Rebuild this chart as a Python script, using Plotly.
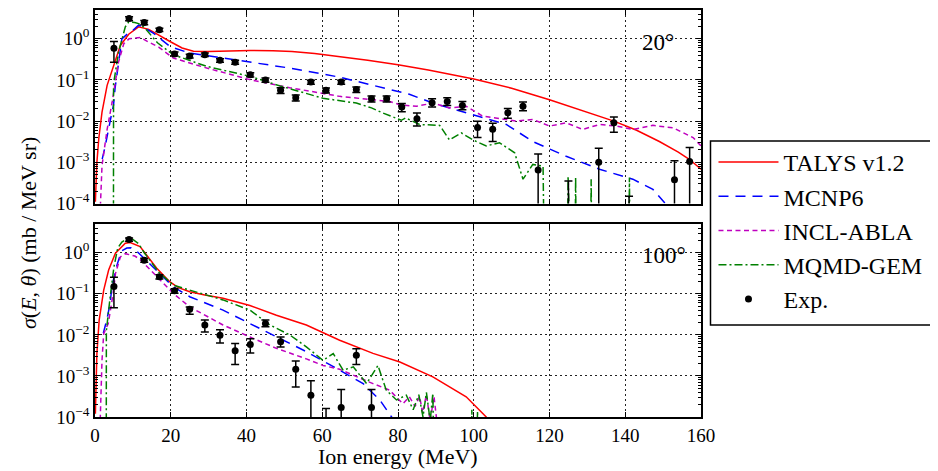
import plotly.graph_objects as go

# ---------------- 20 degree panel ----------------
talys20_E = [0.1, 0.5, 1.0, 1.85, 3.2, 4.9, 6.7, 8.9, 11.5, 14.2, 16.8, 19.8, 23, 26, 30, 35, 41, 47, 52, 58, 65, 72, 80, 88, 100, 110, 120, 130, 137, 143, 149, 154, 157, 160]
talys20_y = [1.1e-4, 1.0e-3, 3.8e-3, 1.66e-2, 7.4e-2, 0.224, 0.69, 1.29, 1.95, 1.70, 1.22, 0.86, 0.60, 0.50, 0.49, 0.50, 0.52, 0.51, 0.49, 0.44, 0.37, 0.30, 0.234, 0.174, 0.106, 0.063, 0.033, 0.0166, 0.010, 0.0060, 0.0032, 0.00178, 0.00117, 0.00068]

mcnp20_E = [1.9, 2.7, 4.0, 4.9, 5.3, 6.2, 7.1, 8.5, 10.0, 11.5, 12.5, 15.5, 19.8, 25, 29.5, 35, 41, 51.4, 64.6, 77.8, 83, 89.2, 99.8, 108.6, 115.6, 124.4, 133.2, 142, 147.3, 151]
mcnp20_y = [1.2e-3, 2.5e-3, 1.0e-2, 2.5e-2, 6.3e-2, 0.22, 1.0, 1.3, 1.6, 2.14, 2.0, 1.35, 0.65, 0.45, 0.39, 0.33, 0.28, 0.195, 0.117, 0.058, 0.045, 0.0275, 0.0145, 0.0083, 0.0032, 0.0014, 0.00068, 0.00039, 0.00022, 0.00009]

incl20_E = [1.4, 1.45, 1.85, 3.2, 4.5, 5.4, 6.2, 7.6, 9.0, 10.6, 12.0, 14.2, 16.8, 20.7, 29.5, 40.9, 51.4, 64.6, 77.8, 80.5, 84.9, 89.2, 93.6, 98, 102.4, 106.8, 111.2, 115.6, 120, 124.4, 128.8, 133.2, 137.6, 142, 147.3, 152.6, 157.9, 160]
incl20_y = [1e-8, 1.0e-4, 8.3e-4, 6.3e-3, 0.028, 0.091, 0.27, 0.76, 1.0, 1.05, 1.07, 0.83, 0.63, 0.34, 0.195, 0.102, 0.065, 0.040, 0.030, 0.025, 0.023, 0.0275, 0.021, 0.023, 0.0132, 0.0115, 0.010, 0.011, 0.0076, 0.0091, 0.0063, 0.0083, 0.0076, 0.0063, 0.0079, 0.0069, 0.0040, 0.0025]

mqmd20_E = [4.85, 4.9, 6.2, 8.0, 8.9, 10.5, 11.5, 13.0, 16.5, 20.7, 29.5, 40.9, 48.8, 60.2, 69, 73, 76, 80.9, 82, 85.7, 91, 93.6, 96.7, 99.8, 103.3, 106.8, 110.8, 113, 115.6, 118.3, 119.0, 124.5, 124.9, 125.3, 126.5, 126.9, 127.3, 130.6, 131.0, 131.4, 140.7, 141.1, 141.5]
mqmd20_y = [1e-8, 0.08, 0.47, 1.95, 2.57, 2.5, 2.34, 1.9, 0.8, 0.41, 0.214, 0.123, 0.072, 0.036, 0.0275, 0.021, 0.0158, 0.0105, 0.012, 0.0083, 0.0079, 0.0035, 0.0052, 0.0035, 0.0025, 0.0030, 0.0017, 0.00039, 0.00089, 0.00081, 1e-8, 1e-8, 4.7e-4, 1e-8, 1e-8, 4.3e-4, 1e-8, 1e-8, 3.9e-4, 1e-8, 1e-8, 4.3e-4, 1e-8]

exp20_E = [5, 9, 13, 17, 21, 25, 29, 33, 37, 41, 45, 49, 53, 57, 61, 65, 69, 73, 77, 81, 85, 89, 93, 97, 101, 105, 109, 113, 117, 125, 133, 137, 141, 153, 157]
exp20_y = [0.59, 3.1, 2.5, 1.65, 0.43, 0.38, 0.41, 0.30, 0.27, 0.134, 0.10, 0.056, 0.037, 0.089, 0.056, 0.089, 0.059, 0.035, 0.035, 0.022, 0.0114, 0.028, 0.030, 0.024, 0.0070, 0.0064, 0.0159, 0.023, 0.00065, 5e-5, 0.0010, 0.0091, 3e-5, 0.00038, 0.00105]
exp20_lo = [0.27, 2.75, 2.2, 1.5, 0.38, 0.34, 0.37, 0.27, 0.24, 0.119, 0.088, 0.047, 0.031, 0.079, 0.048, 0.079, 0.050, 0.029, 0.029, 0.017, 0.0076, 0.022, 0.024, 0.019, 0.0040, 0.0032, 0.0117, 0.018, 1e-6, 1e-6, 1e-6, 0.0054, 1e-6, 1e-6, 1e-6]
exp20_hi = [0.86, 3.45, 2.8, 1.8, 0.48, 0.42, 0.45, 0.33, 0.30, 0.149, 0.112, 0.065, 0.043, 0.099, 0.064, 0.099, 0.068, 0.041, 0.041, 0.027, 0.0158, 0.035, 0.037, 0.030, 0.010, 0.0089, 0.0204, 0.029, 0.0016, 3.5e-4, 0.0022, 0.0126, 1.5e-4, 0.0011, 0.0023]

# ---------------- 100 degree panel ----------------
talys100_E = [0.1, 0.5, 1.1, 2.3, 3.6, 5.4, 8.0, 9.3, 11.9, 14, 16.3, 19.8, 22, 25, 29, 33.8, 40.9, 47.9, 55.8, 64.6, 73.4, 80.5, 89.2, 98, 103.3, 106]
talys100_y = [1.2e-4, 3.5e-3, 0.023, 0.123, 0.38, 0.98, 1.70, 1.78, 1.41, 0.79, 0.42, 0.195, 0.141, 0.112, 0.093, 0.078, 0.052, 0.030, 0.0174, 0.0074, 0.00355, 0.00219, 0.00095, 0.00031, 0.0001, 0.00005]

mcnp100_E = [2.2, 3.2, 4.0, 4.5, 5.8, 7.0, 8.4, 9.5, 11.0, 12.8, 16.5, 20.7, 25, 33.8, 40.9, 47.9, 55.8, 64.6, 70.8, 75.2, 78.7]
mcnp100_y = [0.011, 0.025, 0.06, 0.16, 0.5, 1.1, 1.3, 1.32, 1.1, 0.75, 0.35, 0.148, 0.085, 0.040, 0.019, 0.0089, 0.0039, 0.00138, 0.00065, 0.00026, 0.000089]

incl100_E = [1.3, 1.4, 1.85, 2.3, 3.5, 4.8, 5.4, 6.7, 8.0, 9.0, 10.5, 11.9, 16.5, 20.7, 25, 33.8, 40.9, 47.9, 55.8, 60.2, 64.6, 69, 73.4, 77.8, 81.3, 83, 84.5, 85.7, 86.5, 87.5, 88.5, 89.5, 90.5]
incl100_y = [1e-8, 1.0e-4, 0.0024, 0.0107, 0.019, 0.102, 0.31, 0.79, 0.95, 0.89, 0.83, 0.69, 0.25, 0.102, 0.048, 0.0174, 0.0089, 0.0047, 0.0026, 0.0018, 0.00145, 0.00095, 0.00065, 0.00045, 0.00021, 0.00031, 0.00018, 0.00032, 0.000126, 0.00035, 0.00008, 0.00032, 0.00005]

mqmd100_E = [2.95, 3.0, 4.0, 5.0, 6.0, 7.1, 8.4, 10.0, 11.5, 13.0, 16.8, 20.7, 25, 29.5, 33.8, 40.9, 46.2, 51.4, 55.8, 60.2, 62.9, 65.5, 68.2, 71.7, 74.7, 76.9, 79.6, 82.2, 84.0, 85.5, 86.6, 87.5, 88.5, 89.2, 90.0, 99.0, 99.5, 100.0, 101.0, 101.5]
mqmd100_y = [1e-8, 0.0126, 0.083, 0.45, 1.3, 1.82, 2.19, 2.1, 1.66, 1.0, 0.34, 0.162, 0.123, 0.093, 0.071, 0.040, 0.0174, 0.010, 0.0051, 0.0024, 0.0035, 0.00138, 0.00166, 0.00065, 0.0018, 0.00045, 0.00026, 0.00034, 0.00015, 0.00035, 0.0001, 0.0004, 0.00008, 0.00038, 1e-8, 1e-8, 0.00015, 1e-8, 0.00014, 1e-8]

exp100_E = [5, 9, 13, 17, 21, 25, 29, 33, 37, 41, 45, 49, 53, 57, 61, 65, 69, 73]
exp100_y = [0.15, 2.1, 0.66, 0.26, 0.118, 0.042, 0.0173, 0.0098, 0.0041, 0.0058, 0.019, 0.0068, 0.00145, 0.00034, 4e-5, 0.00017, 0.0032, 0.00017]
exp100_lo = [0.046, 1.9, 0.59, 0.23, 0.103, 0.032, 0.0117, 0.0063, 0.0019, 0.0036, 0.0158, 0.0051, 0.00054, 1e-6, 1e-6, 1e-6, 0.0019, 1e-6]
exp100_hi = [0.254, 2.3, 0.73, 0.29, 0.133, 0.048, 0.023, 0.0134, 0.0062, 0.0081, 0.023, 0.0089, 0.0023, 0.00076, 1.6e-4, 0.00047, 0.0046, 0.00047]

ytick_vals = [1e-4, 1e-3, 1e-2, 1e-1, 1]
ytick_text = ["10<sup>−4</sup>", "10<sup>−3</sup>", "10<sup>−2</sup>", "10<sup>−1</sup>", "10<sup>0</sup>"]
xtick_vals = [0, 20, 40, 60, 80, 100, 120, 140, 160]

FONT = "Liberation Serif"
styles = {
    "TALYS v1.2": dict(color="#ff0000", width=1.5, dash="solid"),
    "MCNP6": dict(color="#0000ff", width=1.5, dash="10px,7px"),
    "INCL-ABLA": dict(color="#bf00bf", width=1.5, dash="5px,3.5px"),
    "MQMD-GEM": dict(color="#008000", width=1.5, dash="8px,3px,2px,3px"),
}

fig = go.Figure()

panels = [
    ("x", "y", [(talys20_E, talys20_y), (mcnp20_E, mcnp20_y), (incl20_E, incl20_y), (mqmd20_E, mqmd20_y)],
     (exp20_E, exp20_y, exp20_lo, exp20_hi), True),
    ("x2", "y2", [(talys100_E, talys100_y), (mcnp100_E, mcnp100_y), (incl100_E, incl100_y), (mqmd100_E, mqmd100_y)],
     (exp100_E, exp100_y, exp100_lo, exp100_hi), False),
]
names = list(styles.keys())
for xa, ya, curves, expd, show in panels:
    for name, (ex, ey) in zip(names, curves):
        fig.add_trace(go.Scatter(x=ex, y=ey, mode="lines", name=name, line=styles[name],
                                 xaxis=xa, yaxis=ya, showlegend=show, legendgroup=name))
    E, v, lo, hi = expd
    plus = [h - c for h, c in zip(hi, v)]
    minus = [c - l for c, l in zip(v, lo)]
    fig.add_trace(go.Scatter(x=E, y=v, mode="markers", name="Exp.",
                             marker=dict(color="black", size=7),
                             error_y=dict(type="data", symmetric=False, array=plus, arrayminus=minus,
                                          color="black", thickness=1.5, width=4),
                             xaxis=xa, yaxis=ya, showlegend=show, legendgroup="Exp."))

# The page body has an 8px offset; size the figure so it fills the 938x471 window.
OFF = 8
W, H = 938 - OFF, 471 - OFF
L, R, T, B = 95 - OFF, 236.5, 10 - OFF, 54
PW = W - L - R
PH = H - T - B

def px(X):
    return (X - OFF - L) / PW

def py(Y):
    return (H - B - (Y - OFF)) / PH

top_dom = [py(203.5), 1.0]
bot_dom = [0.0, py(224)]

def xaxis(showlabels, anchor):
    return dict(range=[0, 160], tickvals=xtick_vals, showticklabels=showlabels, ticks="inside", ticklen=5,
                tickcolor="black", showline=True, linecolor="black", linewidth=1.5, mirror="ticks",
                showgrid=True, gridcolor="#222", griddash="2px,3px", gridwidth=1, zeroline=False,
                anchor=anchor, tickfont=dict(size=19, color="black"))

def yaxis(domain, anchor):
    return dict(type="log", range=[-4, 0.7], domain=domain, tickvals=ytick_vals, ticktext=ytick_text,
                ticks="inside", ticklen=5, tickcolor="black", showline=True, linecolor="black", linewidth=1.5,
                mirror="ticks", showgrid=True, gridcolor="#222", griddash="2px,3px", gridwidth=1,
                anchor=anchor, tickfont=dict(size=19, color="black"),
                minor=dict(ticks="inside", ticklen=3, tickcolor="black", dtick="D1", showgrid=False))

fig.update_layout(
    width=W, height=H,
    margin=dict(l=L, r=R, t=T, b=B, autoexpand=False),
    paper_bgcolor="white", plot_bgcolor="white",
    font=dict(family=FONT, color="black", size=19),
    xaxis=xaxis(False, "y"), yaxis=yaxis(top_dom, "x"),
    xaxis2=xaxis(True, "y2"), yaxis2=yaxis(bot_dom, "x2"),
    showlegend=True,
    legend=dict(x=px(714), y=py(140), xanchor="left", yanchor="top",
                bgcolor="rgba(0,0,0,0)", borderwidth=0, font=dict(size=24, family=FONT),
                tracegroupgap=0, traceorder="grouped", itemwidth=60),
    annotations=[
        dict(text="20°", x=144, y=-0.1, xref="x", yref="y", xanchor="left", yanchor="middle",
             showarrow=False, font=dict(size=23)),
        dict(text="100°", x=144, y=-0.06, xref="x2", yref="y2", xanchor="left", yanchor="middle",
             showarrow=False, font=dict(size=23)),
        dict(text="<i>σ</i>(<i>E</i>, <i>θ</i>) (mb / MeV sr)", x=px(28), y=py(233),
             xref="paper", yref="paper", textangle=-90,
             xanchor="center", yanchor="middle", showarrow=False, font=dict(size=22)),
        dict(text="Ion energy (MeV)", x=px(398), y=py(456),
             xref="paper", yref="paper", xanchor="center", yanchor="middle", showarrow=False,
             font=dict(size=22)),
    ],
    shapes=[
        dict(type="rect", xref="paper", yref="paper",
             x0=px(711), x1=px(937), y0=py(325), y1=py(141),
             line=dict(color="black", width=1.5), fillcolor="rgba(0,0,0,0)"),
    ],
)

fig.write_html("out.html")
